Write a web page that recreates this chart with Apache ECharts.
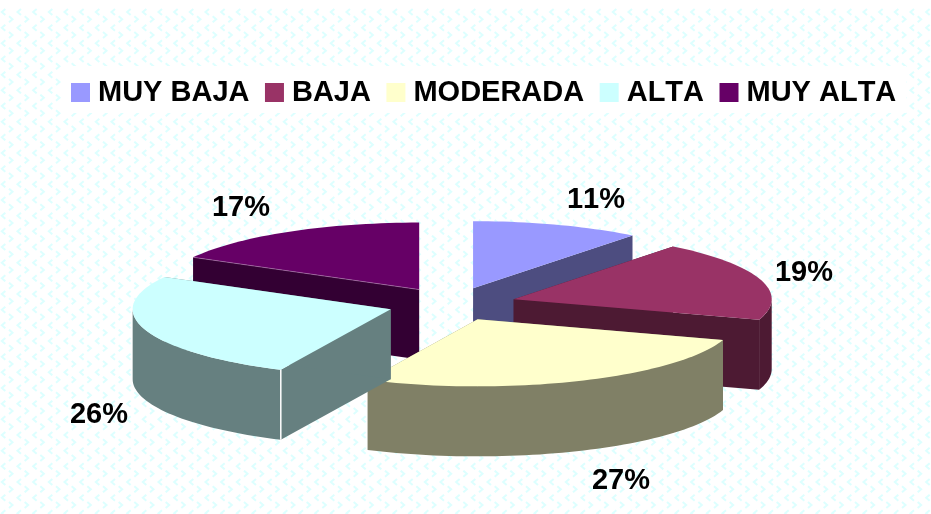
<!DOCTYPE html>
<html><head><meta charset="utf-8">
<style>html,body{margin:0;padding:0;background:#fff}#c{width:931px;height:514px}</style>
<script src="https://cdn.jsdelivr.net/npm/echarts@6/dist/echarts.min.js"></script>
</head><body><div id="c"></div>
<script>
const categories = ['MUY BAJA','BAJA','MODERADA','ALTA','MUY ALTA'];
const values = [10.6,19.4,27,26,17];
const topColors = ['#9999FF','#993366','#FFFFCC','#CCFFFF','#660066'];
const wallColors = ['#4D4D80','#4D1A33','#808066','#668080','#330033'];
const paintOrder = [1,3,4,5,2];   // z of each slice: back slices first

// layout of the projected pie
const pie = {cx:452, cy:304, rx:258, ry:67, depth:70, explode:0.25};
const labelPos = [[596,200],[804,273],[621,481],[99,415],[241,208]];

const total = values.reduce((a,b)=>a+b,0);
const starts = values.map((v,i)=>values.slice(0,i).reduce((a,b)=>a+b,0)/total*Math.PI*2);

function project(cx,cy,a,r){ return [cx+pie.rx*r*Math.sin(a), cy-pie.ry*r*Math.cos(a)]; }
function down(p){ return [p[0],p[1]+pie.depth]; }
function sampleArc(apex,a0,a1){
  const pts = [], n = Math.max(4,Math.ceil((a1-a0)/0.03));
  for(let k=0;k<=n;k++) pts.push(project(apex[0],apex[1],a0+(a1-a0)*k/n,1));
  return pts;
}

function renderSlice(params,api){
  const i = params.seriesIndex, v = api.value(0);
  const a0 = starts[i], a1 = a0 + v/total*Math.PI*2, mid=(a0+a1)/2;
  const apex = project(pie.cx,pie.cy,mid,pie.explode);
  const arc = sampleArc(apex,a0,a1), last = arc.length-1;
  const top = [apex].concat(arc);
  const wall = c=>({type:'polygon',shape:{points:c},style:{fill:wallColors[i]},silent:true});
  const children = [
    wall([apex,arc[0],down(arc[0]),down(apex)]),
    wall([apex,arc[last],down(arc[last]),down(apex)])
  ];
  // only the part of the rim that faces the viewer
  const f0 = Math.max(a0,Math.PI/2), f1 = Math.min(a1,Math.PI*1.5);
  if(f1>f0){
    const rim = sampleArc(apex,f0,f1);
    children.push(wall(rim.concat(rim.slice().reverse().map(down))));
  }
  if(i===3){ // light edge between the flat face and the rim of this slice
    children.push({type:'line',shape:{x1:arc[0][0],y1:arc[0][1],x2:arc[0][0],y2:arc[0][1]+pie.depth},
      style:{stroke:'#FFFFFF',lineWidth:1.5},silent:true});
  }
  children.push({type:'polygon',shape:{points:top},style:{fill:topColors[i]},silent:true});
  if(i===4){ // thin light edge along the front of the flat face
    children.push({type:'line',shape:{x1:apex[0],y1:apex[1],x2:arc[0][0],y2:arc[0][1]},
      style:{stroke:'#B080B0',lineWidth:0.6},silent:true});
  }
  children.push({type:'text',style:{text:Math.round(v)+'%',x:labelPos[i][0],y:labelPos[i][1],
    align:'center',verticalAlign:'middle',fill:'#000',font:'bold 29px "Liberation Sans", Arial, sans-serif'},silent:true});
  return {type:'group',children};
}

// chevron background tile
const period = 47/3;
const tile = document.createElement('canvas'); tile.width = 47; tile.height = 47;
(function(){
  const g = tile.getContext('2d');
  g.strokeStyle = '#DDFFFF'; g.lineWidth = 2;
  for(let r=0;r<3;r++) for(let c=0;c<3;c++){
    let x = 3.33+c*period, y = 12+r*period;
    g.beginPath(); g.moveTo(x+2,y-3); g.lineTo(x-1.5,y); g.lineTo(x+2,y+3); g.stroke();
    x = 11+c*period; y = 3.67+r*period;
    g.beginPath(); g.moveTo(x-2,y-3); g.lineTo(x+1.5,y); g.lineTo(x-2,y+3); g.stroke();
  }
})();

// the reference text is set without pair kerning
const origGetContext = HTMLCanvasElement.prototype.getContext;
HTMLCanvasElement.prototype.getContext = function(){
  const ctx = origGetContext.apply(this,arguments);
  if(ctx && 'fontKerning' in ctx) ctx.fontKerning = 'none';
  return ctx;
};

const chart = echarts.init(document.getElementById('c'),null,{renderer:'canvas'});
chart.setOption({
  animation:false,
  backgroundColor:'#fff',
  graphic:[{type:'rect',z:-10,silent:true,shape:{x:0,y:8,width:931,height:506},style:{fill:{image:tile,repeat:'repeat'}}}],
  legend:{
    data:categories, left:63, top:66, icon:'rect', itemWidth:19, itemHeight:19, itemGap:15.5,
    backgroundColor:'#fff', padding:[12,10,6,8], selectedMode:false,
    textStyle:{fontFamily:'"Liberation Sans", Arial, sans-serif',fontWeight:'bold',fontSize:29,color:'#000',padding:[0,0,0,3]}
  },
  series:categories.map((name,i)=>({
    type:'custom',name,coordinateSystem:'none',z:paintOrder[i]+1,silent:true,
    itemStyle:{color:topColors[i]},
    data:[[values[i]]],
    renderItem:renderSlice
  }))
});
</script></body></html>
